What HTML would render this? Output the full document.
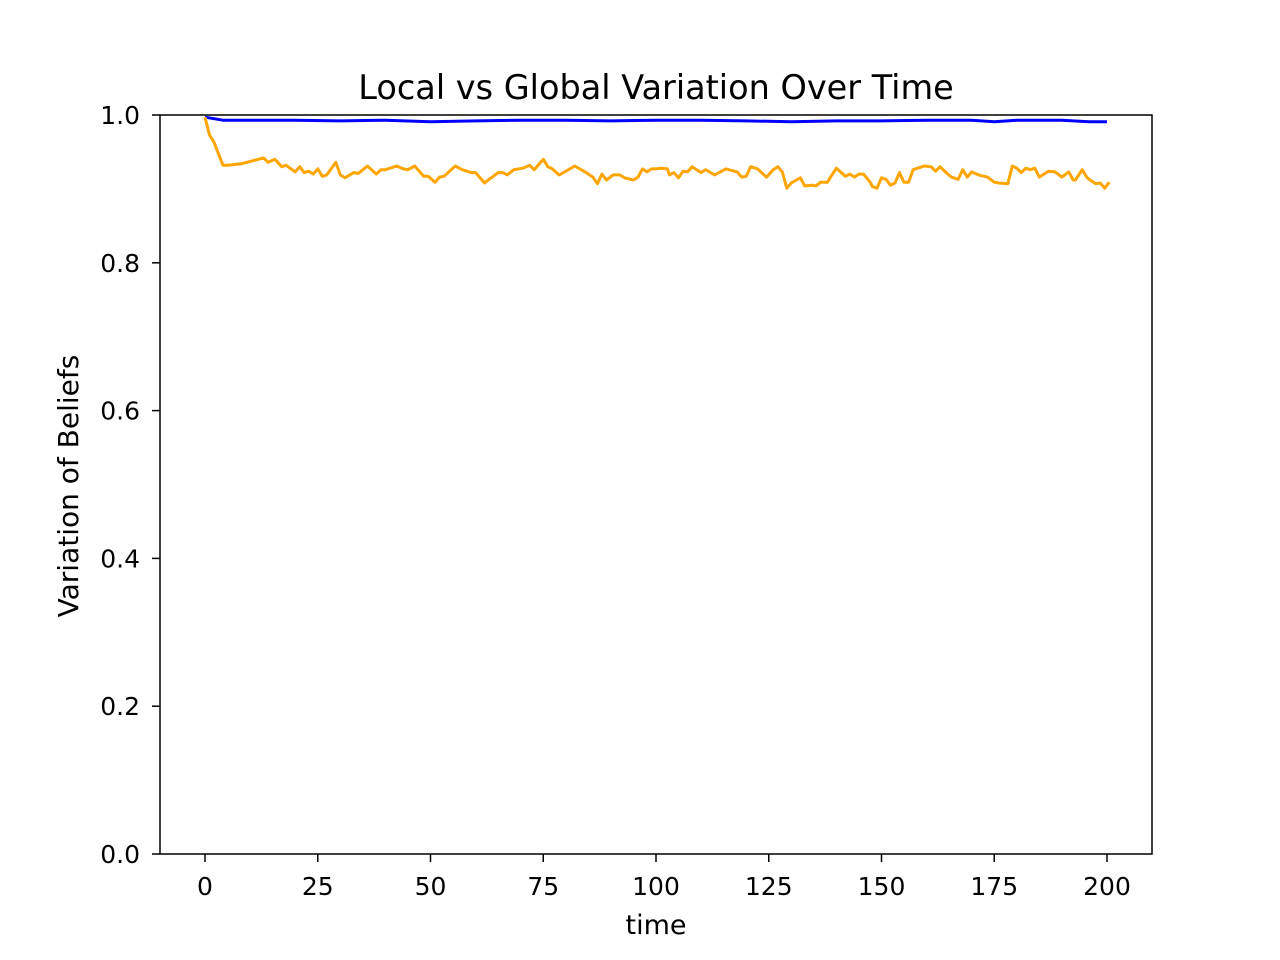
<!DOCTYPE html>
<html><head><meta charset="utf-8"><style>
body{margin:0;background:#fff;}
svg{display:block;font-family:"DejaVu Sans","Liberation Sans",sans-serif;}
</style></head><body>
<svg id="chart" width="1280" height="960" xmlns="http://www.w3.org/2000/svg">
<rect width="1280" height="960" fill="#fff"/>
<text x="656" y="99" font-size="33.5" text-anchor="middle">Local vs Global Variation Over Time</text>
<text x="656" y="934" font-size="27" text-anchor="middle">time</text>
<text transform="translate(78,486) rotate(-90)" font-size="28" text-anchor="middle">Variation of Beliefs</text>
<g id="ticks"></g>
<g id="series"></g>
<rect x="160" y="115" width="992" height="739" fill="none" stroke="#000" stroke-width="1.5"/>
</svg>
<script>
const xTicks=[0,25,50,75,100,125,150,175,200];
const yTicks=[0.0,0.2,0.4,0.6,0.8,1.0];
const yTickLabels=["0.0","0.2","0.4","0.6","0.8","1.0"];
const localTimes=[0,1,2,4,5,8,13,14,15.5,17,18,20,21,22,23,24,25,26,27,29,30,31,33,34,36,38,39,40,42.5,44,45,46.5,48.5,49.5,51,52,53,55.5,57,59,60,62,63,63.5,65,66,67,68.5,70.5,72,73,75,76,77,78.5,79.5,82,84.5,86,87,88,89,90.5,92,93,95,96,97,98,99,100,101,102.5,103,104,105,106,107,108,110,111,113,114,115.5,118,119,120,121,122.5,124.5,126,127,128,129,130,132,133,134.5,135.5,136.5,138,139,140,142,143,144,145,146,147.5,148,149,150,151,152,153,154,155,156,157,158,159.5,161,162,163,164,165.5,167,168,169,170,171.5,173.5,175,176,178,179,180,181,182,183,184,185,187,188.5,190,191.5,192.5,193,194.5,195.5,196,197.5,198.5,199.5,200.5];
const localValues=[0.997,0.973,0.963,0.932,0.932,0.934,0.942,0.936,0.940,0.930,0.932,0.923,0.930,0.922,0.924,0.920,0.927,0.917,0.919,0.936,0.919,0.915,0.922,0.921,0.931,0.920,0.926,0.926,0.931,0.927,0.926,0.931,0.917,0.917,0.909,0.916,0.917,0.931,0.926,0.922,0.922,0.908,0.913,0.915,0.922,0.922,0.919,0.926,0.928,0.932,0.926,0.940,0.930,0.927,0.919,0.922,0.931,0.922,0.916,0.907,0.920,0.912,0.919,0.919,0.915,0.912,0.916,0.927,0.923,0.927,0.927,0.928,0.927,0.919,0.922,0.915,0.924,0.923,0.930,0.922,0.926,0.919,0.922,0.927,0.923,0.916,0.917,0.930,0.927,0.916,0.926,0.930,0.923,0.901,0.908,0.915,0.904,0.905,0.904,0.909,0.909,0.919,0.928,0.917,0.920,0.916,0.920,0.920,0.909,0.903,0.901,0.915,0.913,0.905,0.908,0.922,0.909,0.909,0.926,0.928,0.931,0.930,0.924,0.930,0.924,0.916,0.913,0.926,0.916,0.923,0.919,0.916,0.909,0.908,0.907,0.931,0.928,0.922,0.928,0.926,0.928,0.916,0.924,0.923,0.916,0.923,0.912,0.912,0.926,0.916,0.913,0.907,0.908,0.901,0.909,0.913];
const globalTimes=[0,2,4,10,20,30,40,50,60,70,80,90,100,110,120,130,140,150,160,170,175,180,190,196,200];
const globalValues=[0.997,0.995,0.993,0.993,0.993,0.992,0.993,0.991,0.992,0.993,0.993,0.992,0.993,0.993,0.992,0.991,0.992,0.992,0.993,0.993,0.991,0.993,0.993,0.991,0.991];

const NS="http://www.w3.org/2000/svg";
const X=t=>205+t*(1107-205)/200;
const Y=v=>854-v*739;
const tg=document.getElementById('ticks');
function mk(tag,attrs,parent){const e=document.createElementNS(NS,tag);for(const k in attrs)e.setAttribute(k,attrs[k]);parent.appendChild(e);return e;}
xTicks.forEach(t=>{
  const l=mk('line',{x1:X(t),x2:X(t),y1:854,y2:862,stroke:'#000','stroke-width':1.5},tg);
  
  
  const tx=mk('text',{x:X(t),y:895,'font-size':25,'text-anchor':'middle'},tg);
  tx.textContent=t;
  
  
});
yTicks.forEach((v,i)=>{
  const l=mk('line',{x1:152,x2:160,y1:Y(v),y2:Y(v),stroke:'#000','stroke-width':1.5},tg);
  
  
  const tx=mk('text',{x:140,y:Y(v)+9,'font-size':25,'text-anchor':'end'},tg);
  tx.textContent=yTickLabels[i];
  
  
});
const sg=document.getElementById('series');
function path(ts,vs){return ts.map((t,i)=>(i?'L':'M')+X(t).toFixed(1)+' '+Y(vs[i]).toFixed(1)).join(' ');}
const g=mk('path',{d:path(globalTimes,globalValues),fill:'none',stroke:'#0000ff','stroke-width':3,'stroke-linejoin':'round'},sg);


const lo=mk('path',{d:path(localTimes,localValues),fill:'none',stroke:'#ffa500','stroke-width':3,'stroke-linejoin':'round'},sg);


</script>
</body></html>
